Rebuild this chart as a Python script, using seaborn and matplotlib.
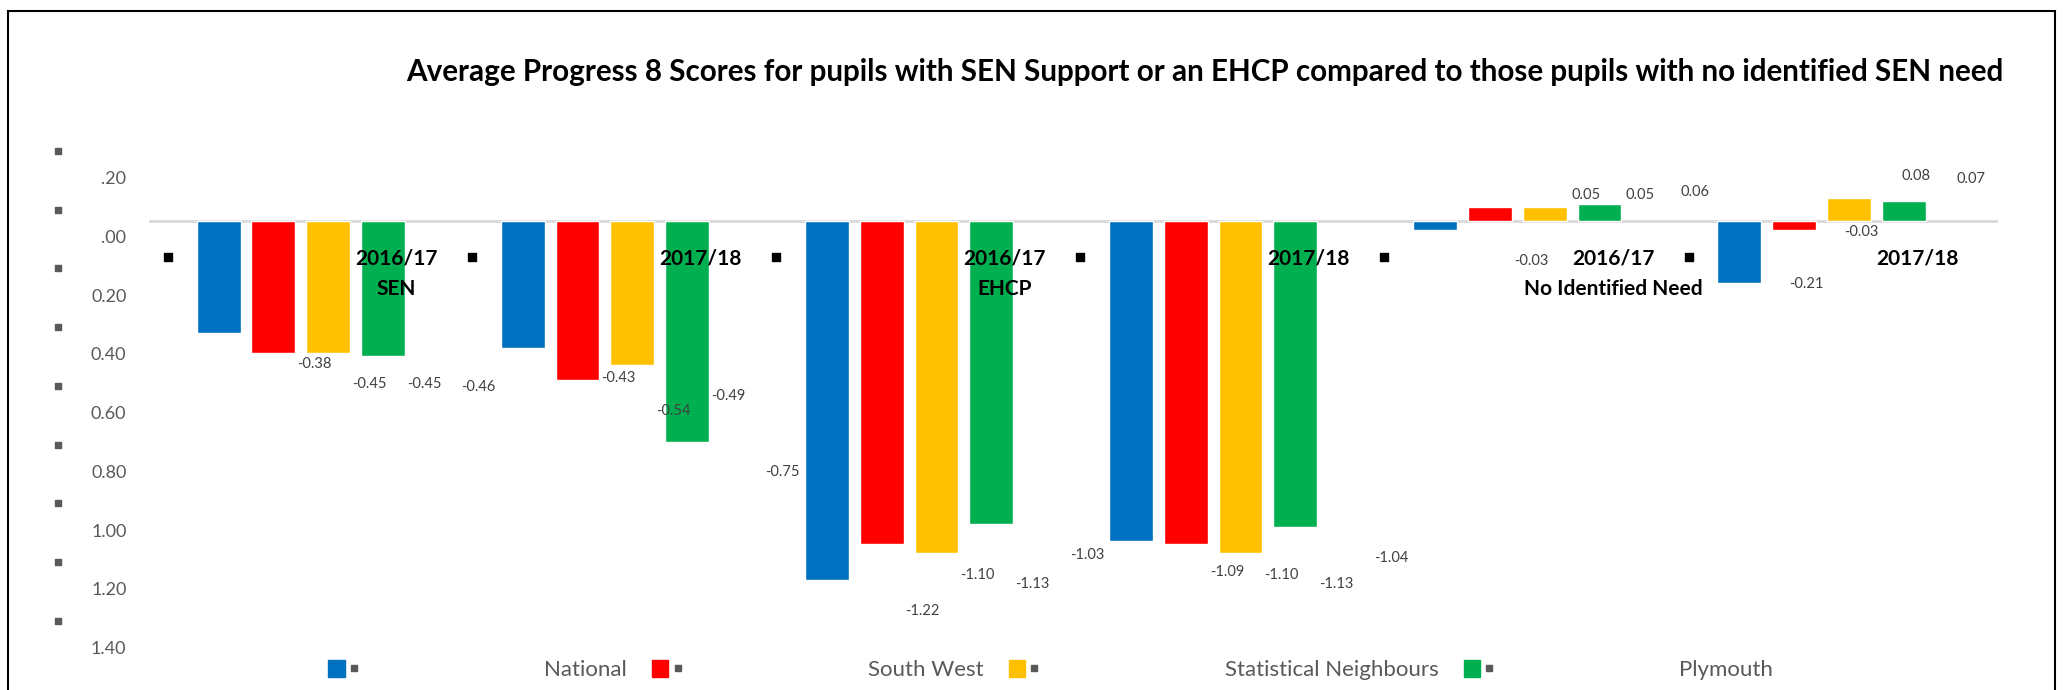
import matplotlib
matplotlib.use("Agg")
import matplotlib.pyplot as plt
import pandas as pd
import seaborn as sns
from matplotlib.transforms import ScaledTranslation, blended_transform_factory
from matplotlib.lines import Line2D
from matplotlib.patches import Patch, Rectangle
from matplotlib.legend_handler import HandlerTuple

# ── data ────────────────────────────────────────────────────────────────
group_keys = ["SEN 16/17", "SEN 17/18", "EHCP 16/17", "EHCP 17/18", "None 16/17", "None 17/18"]
group_labels = ["2016/17\nSEN", "2017/18", "2016/17\nEHCP", "2017/18",
                "2016/17\nNo Identified Need", "2017/18"]
series = ["National", "South West", "Statistical Neighbours", "Plymouth"]

national = [-0.38, -0.43, -1.22, -1.09, -0.03, -0.21]
south_west = [-0.45, -0.54, -1.10, -1.10, 0.05, -0.03]
stat_neighbours = [-0.45, -0.49, -1.13, -1.13, 0.05, 0.08]
plymouth = [-0.46, -0.75, -1.03, -1.04, 0.06, 0.07]

ytick_vals = [0.2, 0.0, -0.2, -0.4, -0.6, -0.8, -1.0, -1.2, -1.4]
ytick_labels = [".20", ".00", "0.20", "0.40", "0.60", "0.80", "1.00", "1.20", "1.40"]

colors = ["#0070C0", "#FF0000", "#FFC000", "#00B050"]
title = ("Average Progress 8 Scores for pupils with SEN Support or an EHCP "
         "compared to those pupils with no identified SEN need")

rows = []
for name, vals in zip(series, [national, south_west, stat_neighbours, plymouth]):
    for g, v in zip(group_keys, vals):
        rows.append({"group": g, "series": name, "score": v})
df = pd.DataFrame(rows)

sns.set_style("white")
plt.rcParams["font.family"] = ["Lato", "DejaVu Sans"]

fig = plt.figure(figsize=(20.65, 6.9), dpi=100)
ax = fig.add_axes([0.072, 0.062, 0.8955, 0.745])

ax.axhline(0, color="#d9d9d9", lw=2, zorder=0)
sns.barplot(data=df, x="group", y="score", hue="series", order=group_keys,
            hue_order=series, palette=colors, saturation=1, width=0.72,
            gap=0.2, legend=False, ax=ax, zorder=2)

ax.set_xlim(-0.5, 5.58)
ax.set_ylim(-1.45, 0.3)
sns.despine(ax=ax, left=True, bottom=True)
ax.set_xlabel("")
ax.set_ylabel("")
ax.set_xticks([])

# y axis: odd Excel-style labels, sitting a little below their values
ax.set_yticks(ytick_vals)
ax.set_yticklabels(ytick_labels, color="#595959", fontsize=13)
ax.tick_params(axis="y", length=0, pad=16)
down = ScaledTranslation(0, -0.15, fig.dpi_scale_trans)
for lab in ax.get_yticklabels():
    lab.set_transform(lab.get_transform() + down)

# little grey squares down the left side
sq_tr = blended_transform_factory(ax.transAxes, ax.transData)
ax.scatter([-0.049] * len(ytick_vals), [v + 0.04 for v in ytick_vals],
           marker="s", s=22, color="#595959", transform=sq_tr, clip_on=False)

# data labels, shifted right like the original (last group sits a bit differently)
shift = 0.315
n_groups = len(group_keys)
for cont in ax.containers:
    for gi, bar in enumerate(cont):
        v = bar.get_height() if bar.get_y() >= 0 else bar.get_y()
        dx = shift if gi < n_groups - 1 else 0.22
        if v < 0:
            dy = -0.105 if gi < n_groups - 1 else -0.005
        else:
            dy = 0.04 if gi < n_groups - 1 else 0.075
        x = bar.get_x() + bar.get_width() / 2 + dx
        ax.text(x, v + dy, f"{v:.2f}", ha="center", va="center",
                fontsize=10.5, color="#404040")

# category labels (one text per line), each with a stray black key square
for i, lab in enumerate(group_labels):
    for k, line in enumerate(lab.split("\n")):
        off = ScaledTranslation(0, -0.274 - 0.30 * k, fig.dpi_scale_trans)
        ax.text(i + shift, 0, line, ha="center", va="top", fontsize=15,
                fontweight="bold", color="black", transform=ax.transData + off)
key_off = ScaledTranslation(0, -0.36, fig.dpi_scale_trans)
ax.scatter([i - 0.437 for i in range(n_groups)], [0] * n_groups, marker="s",
           s=40, color="black", transform=ax.transData + key_off, zorder=3)

fig.text(0.5835, 0.895, title, ha="center", va="center", fontsize=21.3,
         fontweight="bold", color="black")

# legend: labels come before the next colour key, as in the source
sq = Line2D([], [], marker="s", ls="", color="#595959", ms=4.5)
handles = [(Patch(color=c), sq) for c in colors] + [Patch(alpha=0)]
labels = [""] + series
fig.legend(handles, labels, loc="lower left", bbox_to_anchor=(0.137, -0.015),
           ncol=5, frameon=False, markerfirst=False, fontsize=16,
           labelcolor="#595959", handlelength=1.5, handleheight=0.77,
           handletextpad=1.15, columnspacing=8.2,
           handler_map={tuple: HandlerTuple(ndivide=None, pad=0.05)})

fig.add_artist(Rectangle((0.004, -0.05), 0.991, 1.034, fill=False,
                         edgecolor="black", lw=1.5, transform=fig.transFigure))

fig.savefig("out.png", dpi=100)
